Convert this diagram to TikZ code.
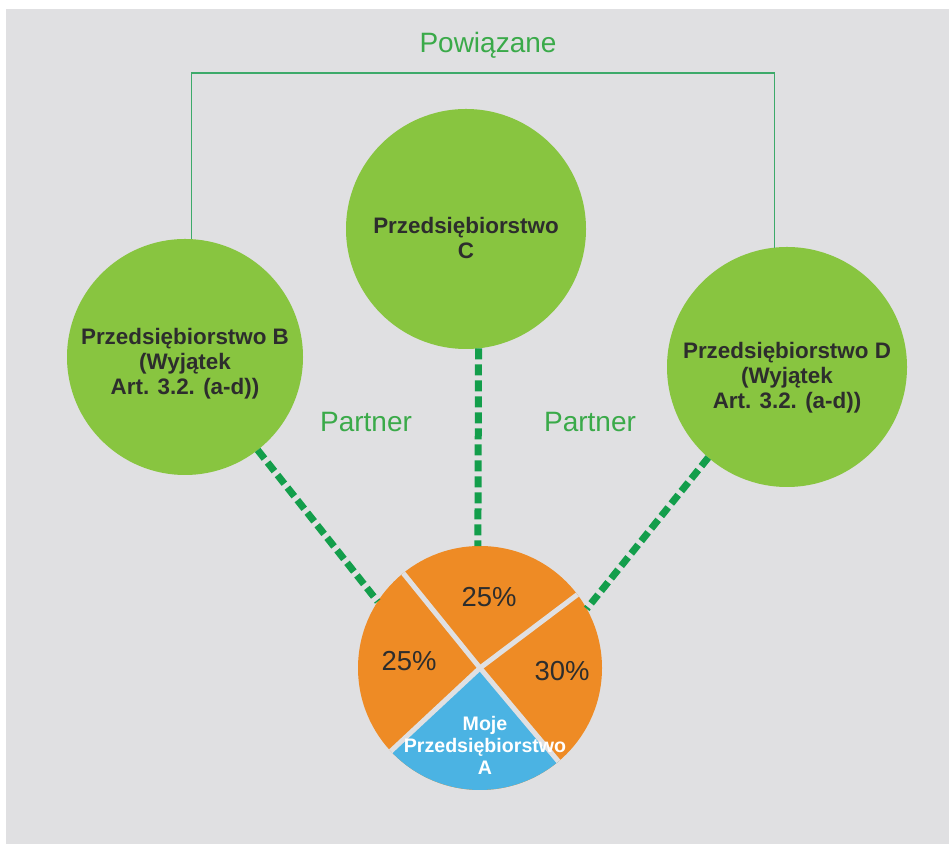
\documentclass[tikz,border=0pt]{standalone}
\usepackage{fontspec}
\setmainfont{Liberation Sans}
\usepackage{tikz}
\definecolor{bggray}{HTML}{E0E0E2}
\definecolor{firmgreen}{HTML}{88C540}
\definecolor{pieorange}{HTML}{EE8B25}
\definecolor{pieblue}{HTML}{4BB3E3}
\definecolor{dashgreen}{HTML}{139E4B}
\definecolor{linkgreen}{HTML}{3DAA6A}
\definecolor{tagggreen}{HTML}{3AAA49}
\definecolor{darktext}{HTML}{2D2D2D}

\begin{document}
\begin{tikzpicture}[x=0.75pt, y=0.75pt,
    firm/.style = {circle, fill=firmgreen, minimum size=180pt, inner sep=0pt, outer sep=0pt, align=center, text=darktext, font=\bfseries\fontsize{16.8}{18.75}\selectfont},
    share/.style = {draw=dashgreen, line width=5.25pt, dash pattern=on 8.25pt off 3.75pt},
    link/.style = {draw=linkgreen, line width=1pt},
    tag/.style = {text=tagggreen, font=\fontsize{21}{25}\selectfont},
    pct/.style = {text=darktext, font=\fontsize{20.6}{24}\selectfont},
    gap/.style = {draw=bggray, line width=3.75pt}]
    \useasboundingbox (0,0) rectangle (949,845);
    \fill[bggray] (6,1) rectangle (949,836);
    \node[firm, minimum size=177pt, text height=59pt] (B) at (185,488) {Przedsiębiorstwo B\\(Wyjątek\\Art. 3.2. (a-d))};
    \node[firm, text height=45pt] (C) at (466,616) {Przedsiębiorstwo\\C};
    \node[firm, text height=66pt] (D) at (787,478) {Przedsiębiorstwo D\\(Wyjątek\\Art. 3.2. (a-d))};
    \node[circle, fill=pieorange, minimum size=183pt, inner sep=0pt, outer sep=0pt] (pie) at (480,177) {};
    \fill[pieblue] (pie.center) -- (pie.223) arc[start angle=223, end angle=310, radius=122] -- cycle;
    \foreach \a in {37,129,223,310}
        \draw[gap] (pie.center) -- (pie.\a);
    \node[pct] (s1) at (489,248) {25\%};
    \node[pct] (s2) at (409,184) {25\%};
    \node[pct] (s3) at (562,174) {30\%};
    \node[align=center, text=white, font=\bfseries\fontsize{14.7}{16.5}\selectfont] (A) at (485,100) {Moje\\Przedsiębiorstwo\\A};
    \draw[share] (B.-52) -- (pie.147);
    \draw[share] (C.-84) -- (pie.91);
    \draw[share] (D.-131) -- (pie.29);
    \coordinate (top) at (480,772);
    \draw[link] (B.87) |- (top) -| (D.96);
    \node[tag] (rel) at (488,800) {Powiązane};
    \node[tag] (p1) at (366,423) {Partner};
    \node[tag] (p2) at (590,423) {Partner};
\end{tikzpicture}
\end{document}
